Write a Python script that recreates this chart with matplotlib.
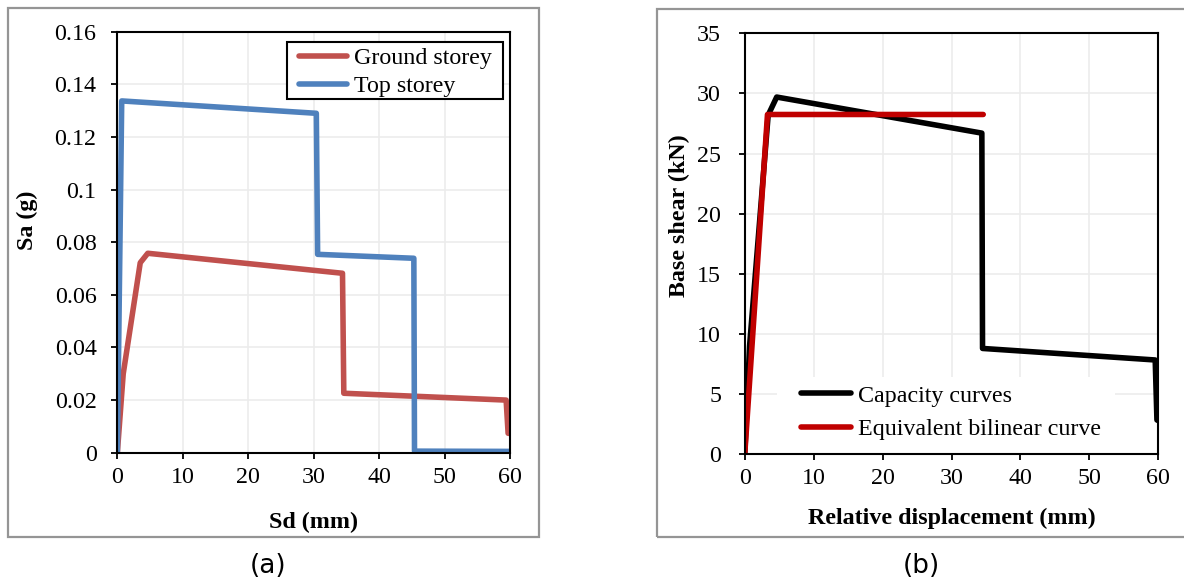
import matplotlib.pyplot as plt
from matplotlib.patches import Rectangle

# (a) capacity spectra
ground_sd = [0, 0.9, 3.5, 4.65, 34.4, 34.6, 59.4, 59.7, 60.0]
ground_sa = [0, 0.030, 0.0722, 0.0758, 0.0682, 0.0226, 0.0200, 0.0074, 0.0073]
top_sd = [0, 0.67, 30.4, 30.6, 45.3, 45.4, 60.0]
top_sa = [0, 0.1337, 0.129, 0.0754, 0.0739, 0.0006, 0.0005]

# (b) capacity curve and bilinear idealisation
cap_d = [0, 0.7, 3.4, 4.64, 34.4, 34.5, 59.55, 59.8, 60.0]
cap_v = [0, 9.0, 28.2, 29.7, 26.7, 8.8, 7.84, 2.85, 2.8]
bil_d = [0, 3.3, 34.6]
bil_v = [0, 28.25, 28.25]

plt.rcParams['font.family'] = ['Liberation Serif', 'DejaVu Serif']
FS = 17.3
LW = 4.0

fig = plt.figure(figsize=(11.84, 5.79), dpi=100)

# panel frames
fig.patches.append(Rectangle((8/1184, 42/579), 531/1184, 529/579, transform=fig.transFigure,
                             fill=False, edgecolor='#959595', lw=1.6))
fig.patches.append(Rectangle((657/1184, 42/579), 540/1184, 528/579, transform=fig.transFigure,
                             fill=False, edgecolor='#959595', lw=1.6))


def style(ax):
    ax.grid(True, color='#ececec', lw=1.2)
    ax.set_axisbelow(True)
    for s in ax.spines.values():
        s.set_linewidth(1.5)
        s.set_color('black')
    ax.tick_params(direction='out', length=4, width=1.3, labelsize=FS, color='black')
    ax.tick_params(axis='y', pad=11)
    ax.tick_params(axis='x', pad=6)


ax1 = fig.add_axes([0.0991, 0.2181, 0.3317, 0.7271])
ax1.plot(ground_sd, ground_sa, color='#C0504D', lw=LW, label='Ground storey',
         solid_joinstyle='round', solid_capstyle='round')
ax1.plot(top_sd, top_sa, color='#4F81BD', lw=LW, label='Top storey',
         solid_joinstyle='round', solid_capstyle='round')
ax1.set_xlim(0, 60)
ax1.set_ylim(0, 0.16)
ax1.set_xticks(range(0, 61, 10))
ax1.set_yticks([0, 0.02, 0.04, 0.06, 0.08, 0.1, 0.12, 0.14, 0.16])
ax1.set_yticklabels(['0', '0.02', '0.04', '0.06', '0.08', '0.1', '0.12', '0.14', '0.16'])
style(ax1)
ax1.set_xlabel('Sd (mm)', fontsize=FS, fontweight='bold')
ax1.set_ylabel('Sa (g)', fontsize=FS, fontweight='bold')
ax1.xaxis.set_label_coords(0.5, -0.141)
ax1.yaxis.set_label_coords(-0.202, 0.553)
ax1.add_patch(Rectangle((0.4308, 0.8401), 0.5514, 0.1361, transform=ax1.transAxes,
                        facecolor='white', edgecolor='black', lw=1.5, zorder=3))
leg1 = ax1.legend(loc='upper left', bbox_to_anchor=(0.4627, 0.9635), fontsize=FS, frameon=False,
                  handlelength=2.0, handletextpad=0.3, borderpad=0, labelspacing=0.28,
                  borderaxespad=0)
leg1.set_zorder(4)

ax2 = fig.add_axes([0.629, 0.2154, 0.3493, 0.7271])
ax2.plot(cap_d, cap_v, color='black', lw=LW, label='Capacity curves',
         solid_joinstyle='round', solid_capstyle='round')
ax2.plot(bil_d, bil_v, color='#C00000', lw=LW, label='Equivalent bilinear curve',
         solid_joinstyle='round', solid_capstyle='round')
ax2.set_xlim(0, 60)
ax2.set_ylim(0, 35)
ax2.set_xticks(range(0, 61, 10))
ax2.set_yticks(range(0, 36, 5))
style(ax2)
ax2.tick_params(axis='y', pad=13)
ax2.set_xlabel('Relative displacement (mm)', fontsize=FS, fontweight='bold')
ax2.set_ylabel('Base shear (kN)', fontsize=FS, fontweight='bold')
ax2.xaxis.set_label_coords(0.5, -0.128)
ax2.yaxis.set_label_coords(-0.133, 0.566)
ax2.add_patch(Rectangle((0.078, 0.003), 0.817, 0.181, transform=ax2.transAxes,
                        facecolor='white', edgecolor='none', zorder=1))
leg2 = ax2.legend(loc='upper left', bbox_to_anchor=(0.135, 0.165), fontsize=FS, frameon=False,
                  handlelength=2.1, handletextpad=0.3, borderpad=0, labelspacing=0.5,
                  borderaxespad=0)

fig.text(268/1184, 1 - 566/579, '(a)', fontsize=19, family='DejaVu Sans', ha='center', va='center')
fig.text(921/1184, 1 - 566/579, '(b)', fontsize=19, family='DejaVu Sans', ha='center', va='center')

fig.savefig('out.png', dpi=100)
